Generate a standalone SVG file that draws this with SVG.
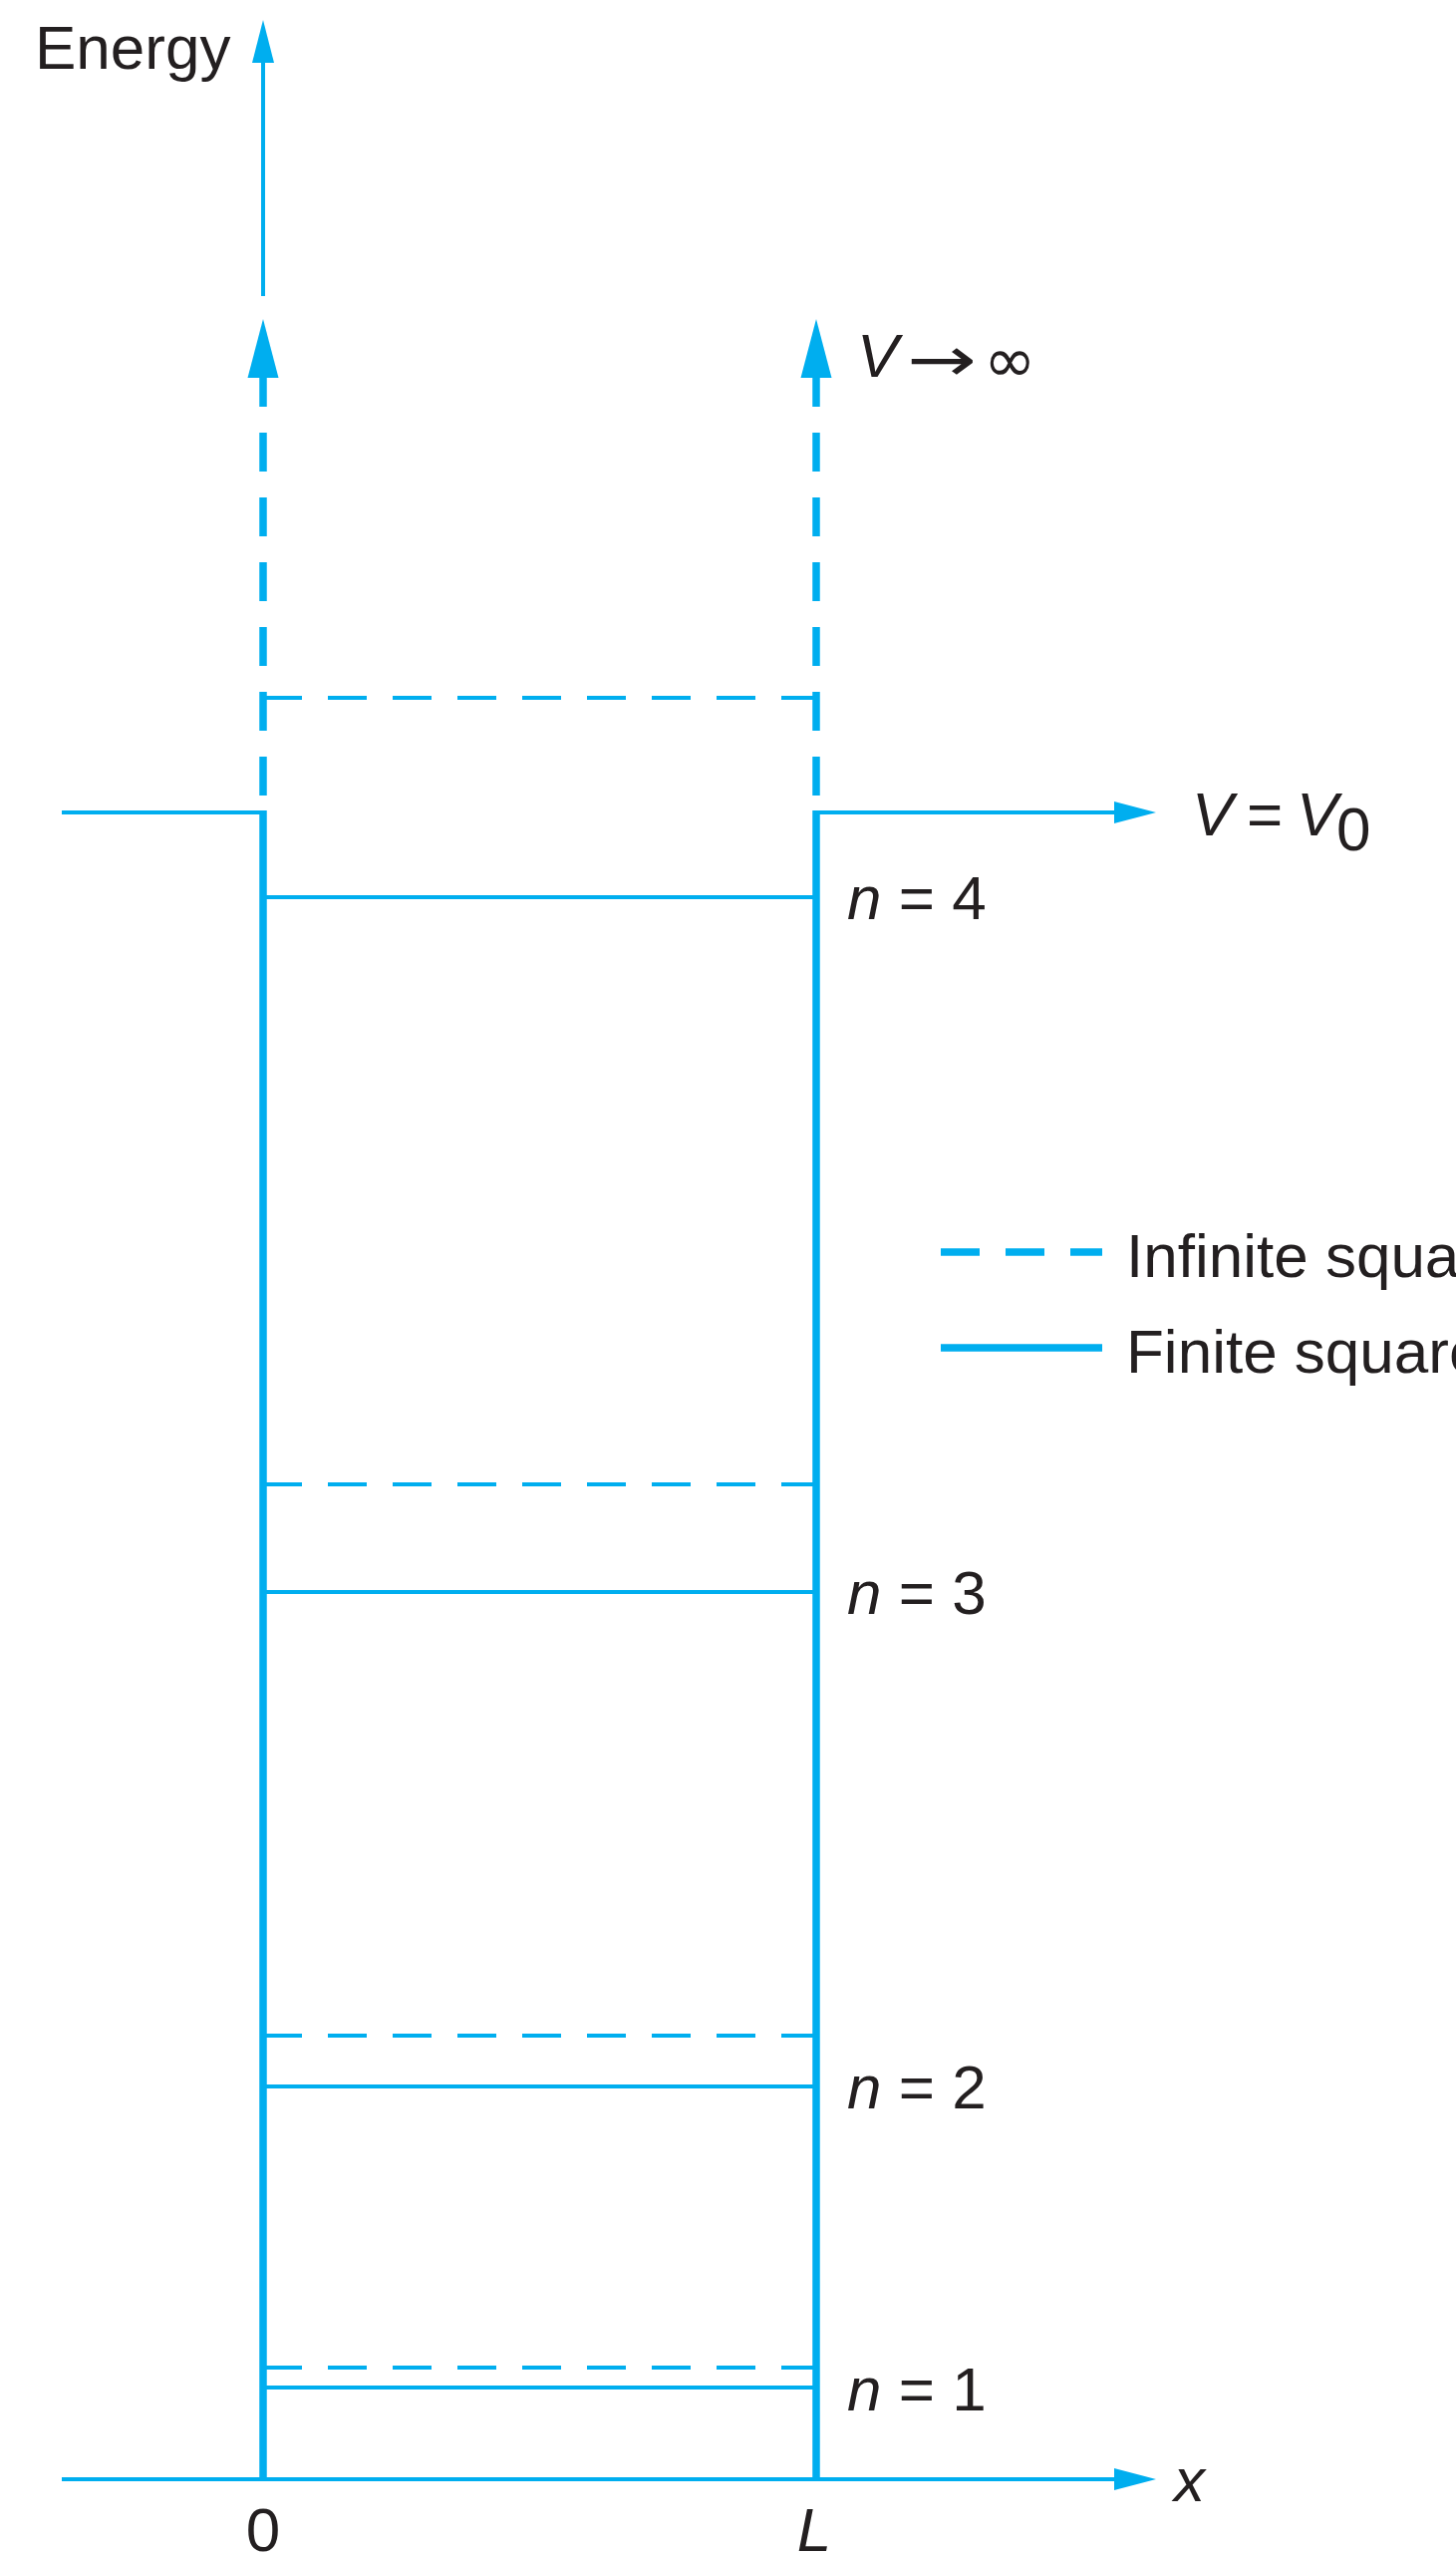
<svg xmlns="http://www.w3.org/2000/svg" width="1461" height="2563" viewBox="0 0 1461 2563">
<style>
.t{font-family:"Liberation Sans",Arial,sans-serif;font-size:62px;fill:#231F20}
.s{font-family:"DejaVu Sans","Liberation Sans",sans-serif;fill:#231F20}
.i{font-style:italic}
.thin{stroke:#00AEEF;stroke-width:4;fill:none}
.wall{stroke:#00AEEF;stroke-width:7.5;fill:none}
.dash{stroke-dasharray:39 26}
.ah{fill:#00AEEF}
</style>
<rect width="1461" height="2563" fill="#ffffff"/>
<g id="connectors">
  <line class="thin" x1="264" y1="60" x2="264" y2="297" stroke-width="3.5"/>
  <polygon class="ah" points="264,20 275,63 253,63"/>
  <line class="wall dash" x1="264" y1="798" x2="264" y2="379"/>
  <polygon class="ah" points="264,320 279.5,379 248.5,379"/>
  <line class="wall dash" x1="819" y1="798" x2="819" y2="379"/>
  <polygon class="ah" points="819,320 834.5,379 803.5,379"/>
  <line class="thin" x1="62" y1="815" x2="266" y2="815"/>
  <line class="thin" x1="817" y1="815" x2="1122" y2="815"/>
  <polygon class="ah" points="1160,815 1118,804 1118,826"/>
  <line class="wall" x1="264" y1="813" x2="264" y2="2489"/>
  <line class="wall" x1="819" y1="813" x2="819" y2="2489"/>
  <line class="thin" x1="62" y1="2487" x2="1122" y2="2487"/>
  <polygon class="ah" points="1160,2487 1118,2476 1118,2498"/>
</g>
<g id="levels-infinite">
  <line class="thin dash" x1="264" y1="700" x2="819" y2="700"/>
  <line class="thin dash" x1="264" y1="1489" x2="819" y2="1489"/>
  <line class="thin dash" x1="264" y1="2042" x2="819" y2="2042"/>
  <line class="thin dash" x1="264" y1="2375" x2="819" y2="2375"/>
</g>
<g id="levels-finite">
  <line class="thin" x1="264" y1="900" x2="819" y2="900"/>
  <line class="thin" x1="264" y1="1597" x2="819" y2="1597"/>
  <line class="thin" x1="264" y1="2093" x2="819" y2="2093"/>
  <line class="thin" x1="264" y1="2395" x2="819" y2="2395"/>
</g>
<g id="labels">
  <text class="t" x="35" y="69" font-size="63">Energy</text>
  <text class="t i" x="860" y="378">V</text>
  <text class="s" x="910" y="382" font-size="62" textLength="70" lengthAdjust="spacingAndGlyphs">→</text>
  <text class="s" x="987" y="383" font-size="63">∞</text>
  <text class="t i" x="1196" y="838">V</text>
  <text class="t" x="1251" y="838">=</text>
  <text class="t i" x="1301" y="838">V</text>
  <text class="t" x="1341" y="853" font-size="46">0</text>
  <text class="t" x="850" y="922"><tspan class="i">n</tspan> = 4</text>
  <text class="t" x="850" y="1619"><tspan class="i">n</tspan> = 3</text>
  <text class="t" x="850" y="2115"><tspan class="i">n</tspan> = 2</text>
  <text class="t" x="850" y="2418"><tspan class="i">n</tspan> = 1</text>
  <text class="t i" x="1178" y="2509">x</text>
  <text class="t" x="264" y="2559" text-anchor="middle">0</text>
  <text class="t i" x="817" y="2559" text-anchor="middle">L</text>
</g>
<g id="legend">
  <line class="wall dash" x1="944" y1="1256" x2="1106" y2="1256"/>
  <line class="wall" x1="944" y1="1352" x2="1106" y2="1352"/>
  <text class="t" x="1130" y="1281">Infinite square well</text>
  <text class="t" x="1130" y="1377">Finite square well</text>
</g>
</svg>
